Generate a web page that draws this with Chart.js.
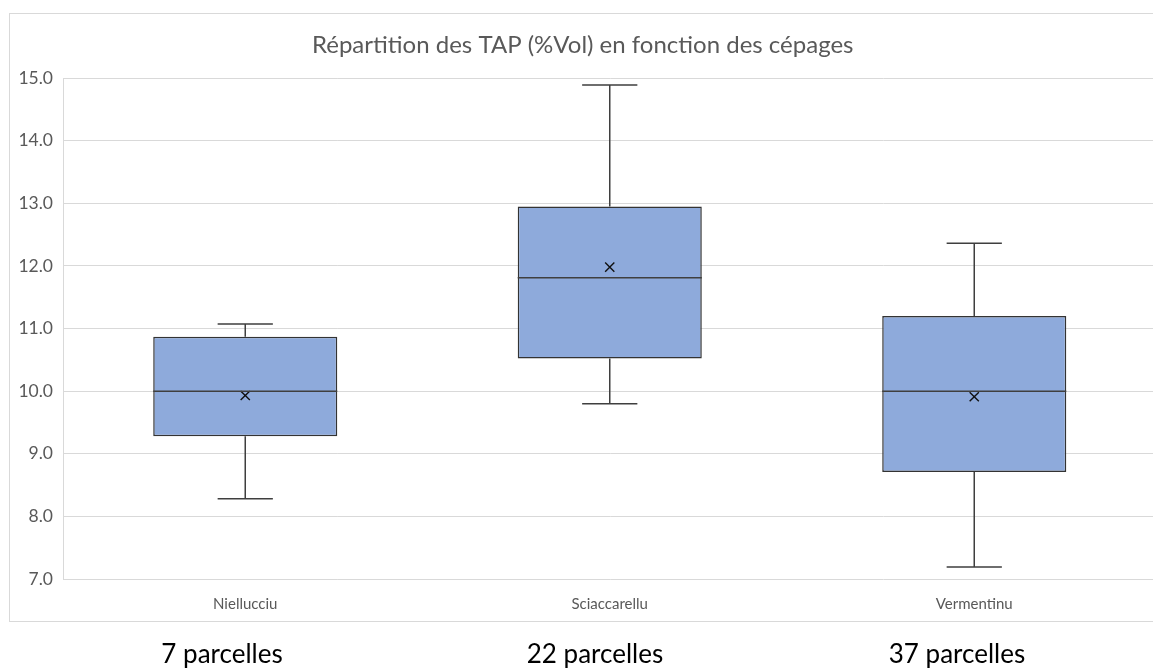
<!DOCTYPE html>
<html><head><meta charset="utf-8">
<script src="https://cdn.jsdelivr.net/npm/chart.js@4"></script>
<style>
html,body{margin:0;padding:0;background:#fff;overflow:hidden;width:1153px;height:669px;}
#frame{position:absolute;left:9px;top:13px;width:1180px;height:609px;border:1px solid #d9d9d9;box-sizing:border-box;}
#wrap{position:absolute;left:0;top:0;width:1180px;height:669px;}
.cnt{position:absolute;top:637px;font-family:Lato,"Open Sans",sans-serif;font-size:26px;color:#000;white-space:nowrap;transform:translateX(-50%);}
</style></head>
<body>
<div id="frame"></div>
<div id="wrap"><canvas id="c"></canvas></div>
<div class="cnt" style="left:222px">7 parcelles</div>
<div class="cnt" style="left:595px">22 parcelles</div>
<div class="cnt" style="left:957px">37 parcelles</div>
<script>
const categories = ["Niellucciu", "Sciaccarellu", "Vermentinu"];
const minValues = [8.28, 9.80, 7.19];
const q1Values = [9.28, 10.52, 8.71];
const medianValues = [10.00, 11.81, 10.00];
const q3Values = [10.87, 12.95, 11.20];
const maxValues = [11.07, 14.89, 12.36];
const meanValues = [9.93, 11.98, 9.91];
const yTicks = [7, 8, 9, 10, 11, 12, 13, 14, 15];

const boxWhiskers = {
  id: 'boxWhiskers',
  afterDatasetsDraw(chart) {
    const ctx = chart.ctx;
    const x = chart.scales.x, y = chart.scales.y;
    const meta = chart.getDatasetMeta(0);
    ctx.save();
    ctx.strokeStyle = '#3f3f3f';
    ctx.lineWidth = 1.5;
    categories.forEach((c, i) => {
      const cx = x.getPixelForValue(i);
      const bar = meta.data[i];
      const half = bar.width / 2;
      const cap = bar.width * 0.15;
      const yMin = y.getPixelForValue(minValues[i]);
      const yQ1 = y.getPixelForValue(q1Values[i]);
      const yQ3 = y.getPixelForValue(q3Values[i]);
      const yMax = y.getPixelForValue(maxValues[i]);
      const yMed = y.getPixelForValue(medianValues[i]);
      ctx.beginPath();
      ctx.moveTo(cx, yQ3); ctx.lineTo(cx, yMax);
      ctx.moveTo(cx - cap, yMax); ctx.lineTo(cx + cap, yMax);
      ctx.moveTo(cx, yQ1); ctx.lineTo(cx, yMin);
      ctx.moveTo(cx - cap, yMin); ctx.lineTo(cx + cap, yMin);
      ctx.moveTo(cx - half, yMed); ctx.lineTo(cx + half, yMed);
      ctx.stroke();
    });
    ctx.restore();
  }
};

new Chart(document.getElementById('c'), {
  data: {
    labels: categories,
    datasets: [
      {
        type: 'bar',
        data: categories.map((c, i) => [q1Values[i], q3Values[i]]),
        backgroundColor: '#8eaadb',
        borderColor: '#333333',
        borderWidth: 1.5,
        borderSkipped: false,
        categoryPercentage: 1,
        barPercentage: 0.505,
        order: 2
      },
      {
        type: 'line',
        data: meanValues,
        showLine: false,
        pointStyle: 'crossRot',
        pointRadius: 6.5,
        pointBorderColor: '#111',
        pointBorderWidth: 1.4,
        pointBackgroundColor: 'transparent',
        order: 0
      }
    ]
  },
  options: {
    responsive: true,
    maintainAspectRatio: false,
    animation: false,
    layout: { padding: { left: 9, top: 13, right: 23.5, bottom: 46 } },
    plugins: {
      legend: { display: false },
      tooltip: { enabled: false },
      title: {
        display: true,
        text: 'Répartition des TAP (%Vol) en fonction des cépages',
        color: '#595959',
        font: { family: 'Lato, "Open Sans", sans-serif', size: 24, weight: 'normal', lineHeight: 1.2 },
        padding: { top: 17.6, bottom: 18.6 }
      }
    },
    scales: {
      x: {
        type: 'category',
        offset: true,
        grid: { display: false, drawTicks: false },
        border: { display: false },
        ticks: { color: '#595959', font: { family: 'Lato, "Open Sans", sans-serif', size: 15 }, padding: 16 },
        afterFit(s) { s.height = 44; }
      },
      y: {
        min: 7, max: 15,
        afterBuildTicks(s) { s.ticks = yTicks.map(v => ({ value: v })); },
        grid: { color: '#d9d9d9', lineWidth: 1, drawTicks: false },
        border: { display: true, color: '#d9d9d9' },
        ticks: { color: '#595959', font: { family: 'Lato, "Open Sans", sans-serif', size: 17.5 }, padding: 10,
          callback: v => Number(v).toFixed(1) },
        afterFit(s) { s.width = 54; }
      }
    }
  },
  plugins: [boxWhiskers]
});
</script>
</body></html>
